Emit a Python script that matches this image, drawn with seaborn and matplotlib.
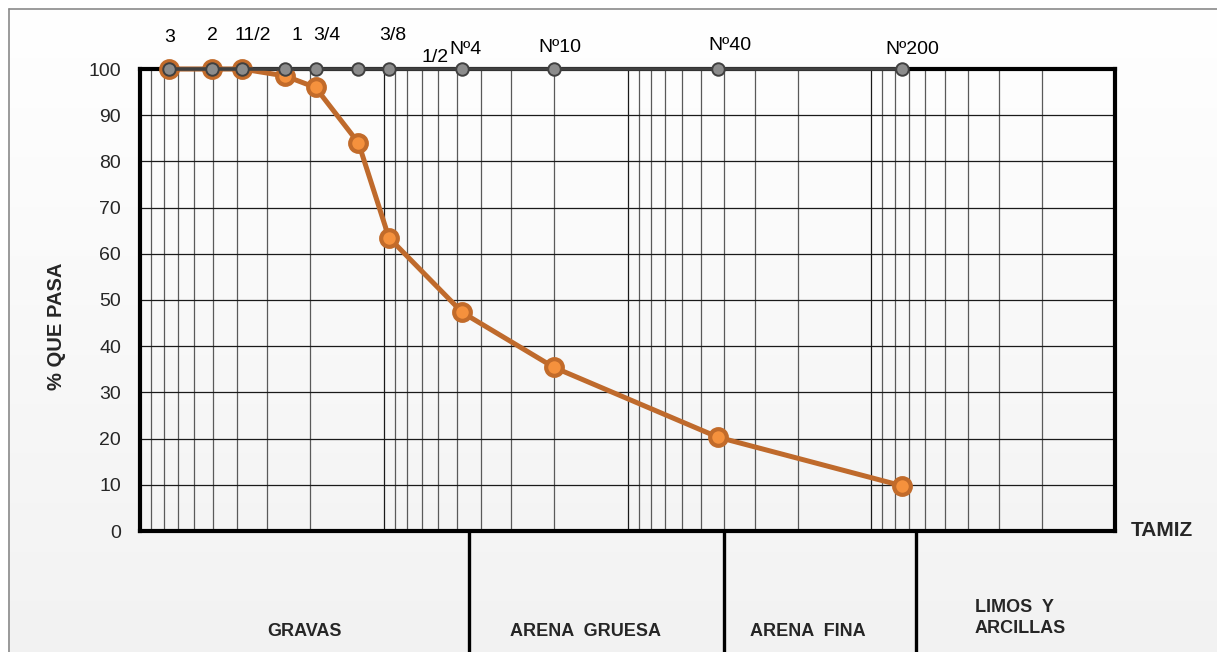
import numpy as np
import matplotlib
matplotlib.use("Agg")
import matplotlib.pyplot as plt
from matplotlib.lines import Line2D
from matplotlib.ticker import LogLocator, NullFormatter, FixedLocator
import seaborn as sns

sns.set_style("white")
plt.rcParams["font.family"] = ["Liberation Sans", "DejaVu Sans"]

# Sieve openings (mm), their names and the percentage passing each one
sieve_names = ["3", "2", "11/2", "1", "3/4", "1/2", "3/8", "Nº4", "Nº10", "Nº40", "Nº200"]
sieve_mm = [76.2, 50.8, 38.1, 25.4, 19.05, 12.7, 9.525, 4.76, 2.0, 0.425, 0.075]
percent_passing = [100.0, 100.0, 100.0, 98.5, 96.0, 84.0, 63.5, 47.3, 35.4, 20.3, 9.8]
sieve_ref_line = [100.0] * len(sieve_mm)

# Soil fractions listed under the chart
fractions = ["GRAVAS", "ARENA  GRUESA", "ARENA  FINA", "LIMOS  Y\nARCILLAS"]
y_ticks = list(range(0, 101, 10))

W, H = 1217, 652
fig = plt.figure(figsize=(W / 100, H / 100), dpi=100)
fig.patch.set_facecolor("white")


def fx(px):
    return px / W


def fy(py):
    return 1 - py / H


# Chart-area background: soft vertical gradient inside the outer frame
bg = fig.add_axes([fx(8), 0, 1 - fx(8), fy(8)], zorder=-10)
grad = np.linspace(1.0, 0.949, 256).reshape(-1, 1)
bg.imshow(np.dstack([grad, grad, grad]), aspect="auto", extent=[0, 1, 0, 1])
bg.set_axis_off()
fig.add_artist(Line2D([fx(8.5), fx(8.5)], [0, fy(8.5)], color="#8a8a8a", lw=1.2))
fig.add_artist(Line2D([fx(8.5), 1], [fy(8.5), fy(8.5)], color="#8a8a8a", lw=1.2))

ax = fig.add_axes([fx(140), fy(531), fx(975), 462 / H])
ax.patch.set_alpha(0)
ax.set_xscale("log")

# Grain-size curve
sns.lineplot(x=sieve_mm, y=percent_passing, ax=ax, color="#BF6A2C", lw=3.6,
             marker="o", markersize=12, markerfacecolor="#F5913D",
             markeredgecolor="#C26B2A", markeredgewidth=3.0,
             zorder=5, clip_on=False)
# Sieve reference points along the 100 % line
sns.lineplot(x=sieve_mm, y=sieve_ref_line, ax=ax, color="#404040", lw=2.6,
             marker="o", markersize=9, markerfacecolor="#8C8C8C",
             markeredgecolor="#404040", markeredgewidth=1.4,
             zorder=6, clip_on=False)

ax.set_xlim(100, 0.01)
ax.set_ylim(0, 100)
ax.set_yticks(y_ticks)
ax.set_yticklabels([str(v) for v in y_ticks], fontsize=14)
ax.tick_params(axis="y", length=0, pad=13.5)
ax.xaxis.set_major_locator(LogLocator(base=10, numticks=10))
ax.xaxis.set_minor_locator(LogLocator(base=10, subs=np.arange(2, 10), numticks=50))
ax.xaxis.set_major_formatter(NullFormatter())
ax.xaxis.set_minor_formatter(NullFormatter())
ax.tick_params(axis="x", which="both", length=0)
ax.grid(False)
ax.grid(True, axis="y", color="#1a1a1a", lw=0.9)
ax.grid(True, axis="x", which="major", color="#1a1a1a", lw=0.9)
ax.grid(True, axis="x", which="minor", color="#5a5a5a", lw=0.9)
ax.set_axisbelow(True)
ax.set_xlabel("")
ax.set_ylabel("")
for sp in ax.spines.values():
    sp.set_visible(True)
    sp.set_color("black")
    sp.set_linewidth(3.0)
    sp.set_zorder(4)

# Sieve names above their points (offsets in pixels)
label_offsets = [(1, 31), (1, 33), (11, 33), (12, 33), (11, 33), (77, 11),
                 (4, 33), (3, 20), (6, 21), (12, 24), (11, 20)]
for name, size, (dx, dy) in zip(sieve_names, sieve_mm, label_offsets):
    ax.annotate(name, xy=(size, 100), xytext=(dx, dy), textcoords="offset pixels",
                ha="center", va="center", fontsize=14, color="black",
                annotation_clip=False, zorder=7)

fig.text(fx(57), fy(326), "% QUE PASA", rotation=90, ha="center", va="center",
         fontsize=14.5, fontweight="bold")
fig.text(fx(1162), fy(530), "TAMIZ", ha="center", va="center",
         fontsize=15, fontweight="bold")

# Fraction table under the chart
for xd in (469, 724, 916):
    fig.add_artist(Line2D([fx(xd), fx(xd)], [0, fy(531)], color="black", lw=2.4))
fig.text(fx(305), fy(632), fractions[0], ha="center", va="center", fontsize=13, fontweight="bold")
fig.text(fx(585), fy(632), fractions[1], ha="center", va="center", fontsize=13, fontweight="bold")
fig.text(fx(808), fy(632), fractions[2], ha="center", va="center", fontsize=13, fontweight="bold")
fig.text(fx(975), fy(618), fractions[3], ha="left", va="center", fontsize=13,
         fontweight="bold", linespacing=1.35)

fig.savefig("out.png", dpi=100)
